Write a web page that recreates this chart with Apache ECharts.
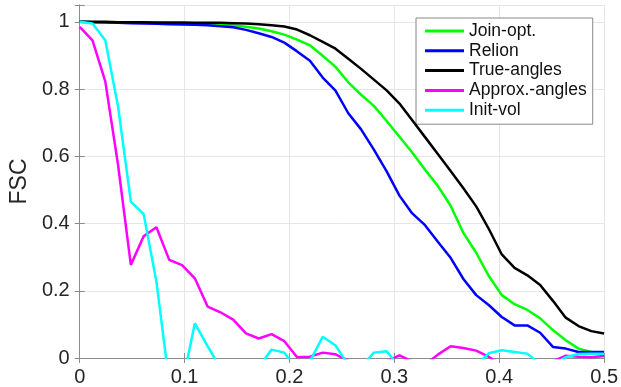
<!DOCTYPE html>
<html>
<head>
<meta charset="utf-8">
<script src="https://cdn.jsdelivr.net/npm/echarts@6/dist/echarts.min.js"></script>
<style>
html, body { margin: 0; padding: 0; background: #fff; }
#chart { width: 621px; height: 387px; }
</style>
</head>
<body>
<div id="chart"></div>
<script>
// spatial frequency grid: 42 samples from 0 to 0.5
const nPts = 42;
const freq = [];
for (let k = 0; k < nPts; k++) freq.push(k * 0.5 / (nPts - 1));

const seriesNames = ['Join-opt.', 'Relion', 'True-angles', 'Approx.-angles', 'Init-vol'];
const xTicks = [0, 0.1, 0.2, 0.3, 0.4, 0.5];
const yTicks = [0, 0.2, 0.4, 0.6, 0.8, 1];

const joinOpt = [1.0, 0.999, 0.999, 0.998, 0.998, 0.997, 0.997, 0.996, 0.996, 0.995,
  0.994, 0.992, 0.989, 0.985, 0.98, 0.972, 0.962, 0.947, 0.93, 0.899,
  0.866, 0.82, 0.783, 0.75, 0.705, 0.658, 0.611, 0.56, 0.512, 0.453,
  0.372, 0.313, 0.243, 0.187, 0.16, 0.143, 0.118, 0.083, 0.053, 0.028,
  0.018, 0.016];
const relion = [1.0, 0.999, 0.998, 0.997, 0.996, 0.995, 0.994, 0.993, 0.992, 0.991,
  0.99, 0.987, 0.984, 0.976, 0.966, 0.955, 0.938, 0.912, 0.884, 0.834,
  0.795, 0.728, 0.68, 0.62, 0.555, 0.483, 0.43, 0.395, 0.346, 0.298,
  0.235, 0.187, 0.157, 0.122, 0.097, 0.097, 0.075, 0.033, 0.028, 0.018,
  0.018, 0.018];
const trueAngles = [1.0, 1.0, 1.0, 0.999, 0.999, 0.999, 0.998, 0.998, 0.998, 0.997,
  0.997, 0.997, 0.996, 0.995, 0.993, 0.99, 0.986, 0.977, 0.96, 0.94,
  0.92, 0.89, 0.86, 0.828, 0.796, 0.757, 0.707, 0.657, 0.607, 0.556,
  0.505, 0.451, 0.383, 0.308, 0.268, 0.246, 0.217, 0.17, 0.12, 0.095,
  0.08, 0.073];
const approxAngles = [0.985, 0.945, 0.823, 0.574, 0.277, 0.362, 0.389, 0.292, 0.276, 0.237,
  0.153, 0.136, 0.114, 0.073, 0.058, 0.071, 0.05, 0.002, 0.004, 0.016,
  0.011, -0.008, -0.03, -0.03, -0.01, 0.008, -0.01, -0.02, 0.01, 0.035,
  0.03, 0.022, 0.003, -0.02, -0.03, -0.03, -0.03, -0.01, 0.007, 0.004,
  0.002, 0.006];
const initVol = [1.0, 0.995, 0.945, 0.748, 0.465, 0.428, 0.227, -0.075, -0.083, 0.103,
  0.035, -0.03, -0.05, -0.05, -0.028, 0.025, 0.016, -0.036, -0.01, 0.063,
  0.037, -0.02, -0.027, 0.016, 0.02, -0.026, -0.03, -0.03, -0.03, -0.03,
  -0.03, -0.021, 0.014, 0.023, 0.018, 0.013, -0.018, -0.02, 0.002, 0.012,
  0.013, 0.013];

const colorList = ['#00ff00', '#0000ff', '#000000', '#ff00ff', '#00ffff'];
const allData = [joinOpt, relion, trueAngles, approxAngles, initVol];

const fontFam = '"Liberation Sans", Helvetica, Arial, sans-serif';
const axisGray = '#8c8c8c';

function pairs(ys) {
  return ys.map((y, i) => [freq[i], y]);
}

let myChart = echarts.init(document.getElementById('chart'), null, { renderer: 'canvas' });

let option = {
  animation: false,
  color: colorList,
  textStyle: { fontFamily: fontFam },
  grid: {
    left: 75,
    right: 14,
    top: 5,
    bottom: 29,
    containLabel: false
  },
  legend: {
    orient: 'vertical',
    left: 416,
    top: 18,
    padding: [4, 6, 5, 9],
    itemGap: 1.8,
    itemWidth: 39,
    itemHeight: 3,
    icon: 'rect',
    backgroundColor: '#fff',
    borderColor: '#888',
    borderWidth: 1,
    borderRadius: 0,
    textStyle: { fontSize: 17.5, color: '#111', fontFamily: fontFam, padding: [0, 0, 0, 0] },
    data: seriesNames
  },
  xAxis: [{
    type: 'value',
    min: 0,
    max: 0.5,
    interval: 0.1,
    axisLine: { show: true, lineStyle: { color: axisGray, width: 1 } },
    axisTick: { show: true, inside: true, length: 5, lineStyle: { color: axisGray } },
    axisLabel: {
      fontSize: 20,
      color: '#262626',
      margin: 9,
      formatter: (v) => (xTicks.indexOf(+v.toFixed(2)) >= 0 ? String(+v.toFixed(2)) : '')
    },
    splitLine: { show: true, lineStyle: { color: '#e6e6e6', width: 1 } }
  }, {
    type: 'value',
    position: 'top',
    min: 0,
    max: 0.5,
    interval: 0.1,
    axisLine: { show: true, lineStyle: { color: axisGray, width: 1 } },
    axisTick: { show: true, inside: true, length: 5, lineStyle: { color: axisGray } },
    axisLabel: { show: false },
    splitLine: { show: false }
  }],
  yAxis: [{
    type: 'value',
    min: 0,
    max: 1.05,
    interval: 0.2,
    name: 'FSC',
    nameLocation: 'middle',
    nameGap: 46,
    nameTextStyle: { fontSize: 23, color: '#262626', fontFamily: fontFam },
    axisLine: { show: true, lineStyle: { color: axisGray, width: 1 } },
    axisTick: { show: true, inside: true, length: 5, lineStyle: { color: axisGray } },
    axisLabel: {
      fontSize: 20,
      color: '#262626',
      margin: 10,
      formatter: (v) => (yTicks.indexOf(+v.toFixed(2)) >= 0 ? String(+v.toFixed(2)) : '')
    },
    splitLine: { show: true, lineStyle: { color: '#e6e6e6', width: 1 } }
  }, {
    type: 'value',
    position: 'right',
    min: 0,
    max: 1.05,
    interval: 0.2,
    axisLine: { show: true, lineStyle: { color: axisGray, width: 1 } },
    axisTick: { show: true, inside: true, length: 5, lineStyle: { color: axisGray } },
    axisLabel: { show: false },
    splitLine: { show: false }
  }],
  series: seriesNames.map((name, i) => ({
    name: name,
    type: 'line',
    xAxisIndex: 0,
    yAxisIndex: 0,
    data: pairs(allData[i]),
    showSymbol: false,
    symbol: 'none',
    clip: true,
    z: 2 + i,
    lineStyle: { width: 2.5, color: colorList[i] }
  }))
};

myChart.setOption(option);
window.addEventListener('resize', () => {
  myChart.resize();
});
</script>
</body>
</html>
